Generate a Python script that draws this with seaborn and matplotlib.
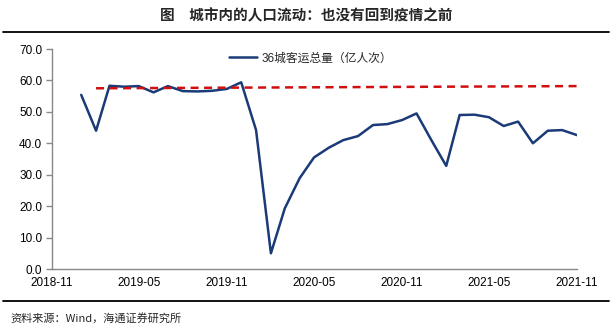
import matplotlib
matplotlib.use("Agg")
import matplotlib.pyplot as plt
import matplotlib.dates as mdates
from matplotlib.lines import Line2D
import seaborn as sns
import pandas as pd

months = pd.date_range("2019-01-01", "2021-11-01", freq="MS")
passengers = [55.4, 44.0, 58.3, 58.0, 58.2, 56.2, 58.2, 56.6, 56.5, 56.7, 57.3, 59.4,
              44.2, 5.0, 19.3, 28.9, 35.5, 38.6, 41.0, 42.3, 45.8, 46.1, 47.4, 49.5,
              41.0, 32.8, 49.0, 49.1, 48.3, 45.5, 46.9, 40.0, 44.0, 44.2, 42.6]
ref_dates = pd.to_datetime(["2019-02-01", "2021-11-01"])
ref_values = [57.5, 58.2]
tick_dates = pd.date_range("2018-11-01", "2021-11-01", freq="6MS")
tick_labels = [d.strftime("%Y-%m") for d in tick_dates]
series_label = "36城客运总量（亿人次）"
title = "图　城市内的人口流动：也没有回到疫情之前"
source = "资料来源：Wind，海通证券研究所"

sns.set_theme(style="white")
plt.rcParams["font.family"] = ["Liberation Sans", "Noto Sans CJK SC", "DejaVu Sans"]

df = pd.DataFrame({"date": months, "value": passengers})
ref = pd.DataFrame({"date": ref_dates, "value": ref_values})

fig = plt.figure(figsize=(6.12, 3.27), dpi=100)
ax = fig.add_axes([52/612, 1-269/327, (577-52)/612, (269-49)/327])

sns.lineplot(data=df, x="date", y="value", ax=ax, color="#1b3a78", linewidth=1.8,
             label=series_label)
sns.lineplot(data=ref, x="date", y="value", ax=ax, color="#d01010", linewidth=1.8,
             dashes=False, legend=False)
ax.lines[-1].set_dashes((3.2, 2.2))
for ln in ax.lines:
    ln.set_solid_joinstyle("round")
    ln.set_solid_capstyle("round")

ax.set_xlim(pd.Timestamp("2018-11-01"), pd.Timestamp("2021-11-01"))
ax.set_ylim(0, 70)
ax.set_yticks(range(0, 71, 10))
ax.set_yticklabels([f"{v:.1f}" for v in range(0, 71, 10)], fontsize=8.5, color="black")
ax.set_xticks(tick_dates)
ax.set_xticklabels(tick_labels, fontsize=8.5, color="black")
ax.set_xlabel("")
ax.set_ylabel("")
for s in ["top", "right"]:
    ax.spines[s].set_visible(False)
for s in ["left", "bottom"]:
    ax.spines[s].set_color("#888888")
    ax.spines[s].set_linewidth(1.0)
ax.tick_params(axis="y", which="both", left=True, length=4, width=1, color="#888888", pad=3)
ax.tick_params(axis="x", which="both", bottom=False, length=0, pad=6)

leg = ax.legend(loc="upper left", bbox_to_anchor=((224-52)/525, 1.005), frameon=False,
                fontsize=8.5, handlelength=2.4, handletextpad=0.4, borderaxespad=0)

fig.text(0.5, 1-15/327, title, ha="center", va="center", fontsize=10.5, fontweight="bold",
         family=["Noto Sans CJK SC", "DejaVu Sans"])
fig.add_artist(Line2D([3/612, 609/612], [1-32/327]*2, color="black", linewidth=1.3))
fig.add_artist(Line2D([3/612, 609/612], [1-301/327]*2, color="black", linewidth=1.3))
fig.text(10/612, 1-318/327, source, ha="left", va="center", fontsize=8,
         family=["Noto Sans CJK SC", "DejaVu Sans"])

fig.savefig("out.png", dpi=100)
